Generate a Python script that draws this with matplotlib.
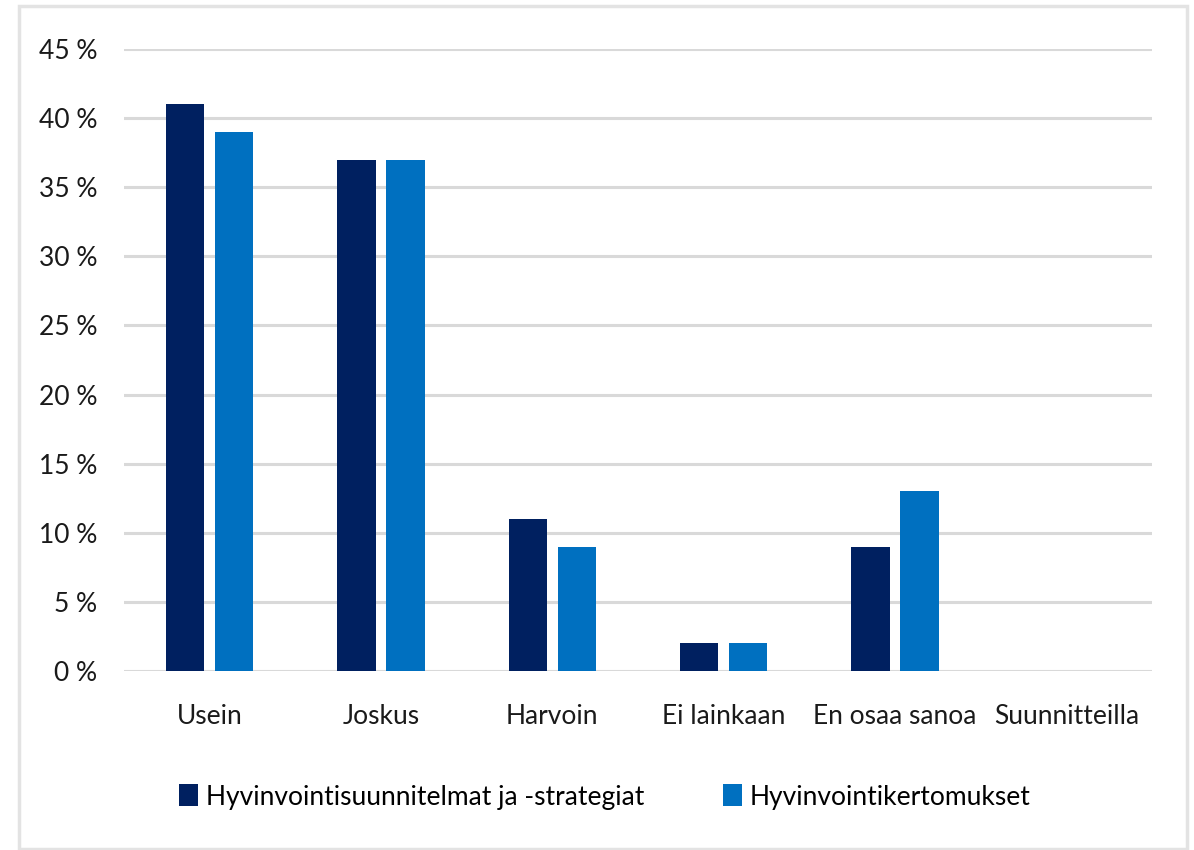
import matplotlib
matplotlib.use("Agg")
import matplotlib.pyplot as plt
from matplotlib.patches import Rectangle, Patch
import numpy as np

categories = ["Usein", "Joskus", "Harvoin", "Ei lainkaan", "En osaa sanoa", "Suunnitteilla"]
series_names = ["Hyvinvointisuunnitelmat ja -strategiat", "Hyvinvointikertomukset"]
strategiat = [41, 37, 11, 2, 9, 0]
kertomukset = [39, 37, 9, 2, 13, 0]
yticks = [0, 5, 10, 15, 20, 25, 30, 35, 40, 45]
ytick_labels = ["0 %", "5 %", "10 %", "15 %", "20 %", "25 %", "30 %", "35 %", "40 %", "45 %"]

colors = ["#002060", "#0070C0"]
plt.rcParams['font.family'] = ['Lato', 'DejaVu Sans']

W, H = 1194, 850
fig = plt.figure(figsize=(W/100, H/100), dpi=100)
ax = fig.add_axes([124/W, 1-671/H, (1152-124)/W, (671-49)/H])

x = np.arange(len(categories))
bw = 0.222
off = 0.143
ax.bar(x - off, strategiat, bw, color=colors[0], zorder=3)
ax.bar(x + off, kertomukset, bw, color=colors[1], zorder=3)

ax.set_xlim(-0.5, len(categories) - 0.5)
ax.set_ylim(0, 45)
ax.set_yticks(yticks)
ax.set_yticklabels(ytick_labels)
ax.set_xticks(x)
ax.set_xticklabels(categories)
ax.grid(axis='y', color='#D9D9D9', linewidth=2.2, zorder=0)
for s in ax.spines.values():
    s.set_visible(False)
ax.tick_params(axis='both', length=0, labelsize=19, colors='#1a1a1a')
ax.tick_params(axis='y', pad=19)
ax.tick_params(axis='x', pad=24)

handles = [Patch(facecolor=colors[0]), Patch(facecolor=colors[1])]
fig.legend(handles, series_names, loc='center', bbox_to_anchor=(605/W, 1-797/H),
           ncol=2, frameon=False, fontsize=19, handlelength=0.7, handleheight=0.9,
           handletextpad=0.3, columnspacing=3.0)

fig.patches.append(Rectangle((19/W, 1/H), (1187-19)/W, 1-7/H, transform=fig.transFigure,
                             fill=False, edgecolor='#E3E3E3', linewidth=2.5))

fig.savefig("out.png", dpi=100, facecolor='white')
